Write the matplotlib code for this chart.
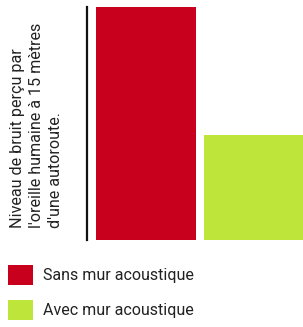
import matplotlib
matplotlib.use("Agg")
import matplotlib.pyplot as plt
from matplotlib import font_manager

# =========================
# DATA
# =========================
categories = ["Sans mur acoustique", "Avec mur acoustique"]
noise_levels = [1.0, 0.45]   # relative level
colors = ["#c8001e", "#bde53a"]
ylabel = "Niveau de bruit perçu par\nl'oreille humaine à 15 mètres\nd'une autoroute."

# =========================
# FONT
# =========================
names = {f.name for f in font_manager.fontManager.ttflist}
font = "Liberation Sans Narrow" if "Liberation Sans Narrow" in names else "Roboto"
plt.rcParams["font.family"] = [font, "DejaVu Sans"]

W, H = 303, 327
fig = plt.figure(figsize=(W / 100, H / 100), dpi=100)
ax = fig.add_axes([87 / W, 1 - 240 / H, (W - 87) / W, 233 / H])

x = list(range(len(categories)))
bars = ax.bar(x, noise_levels, width=0.93, color=colors)

ax.set_xlim(-0.553, 1.456)
ax.set_ylim(0, 1.0)
for side in ["top", "right", "bottom"]:
    ax.spines[side].set_visible(False)
ax.spines["left"].set_linewidth(1.6)
ax.spines["left"].set_color("#111111")
ax.set_xticks([])
ax.set_yticks([])

# rotated axis title, left aligned from the bottom
fig.text(10 / W, 1 - 228 / H, ylabel, rotation=90, ha="left", va="bottom",
         multialignment="left", fontsize=11.6, color="#222222", linespacing=1.32)

# legend below the chart
fig.legend(bars, categories, loc="upper left", bbox_to_anchor=(2 / W, 1 - 259 / H),
           frameon=False, fontsize=11.5, handlelength=1.56, handleheight=1.5,
           handletextpad=0.6, labelspacing=0.95, labelcolor="#222222",
           borderaxespad=0)

fig.savefig("out.png", dpi=100)
